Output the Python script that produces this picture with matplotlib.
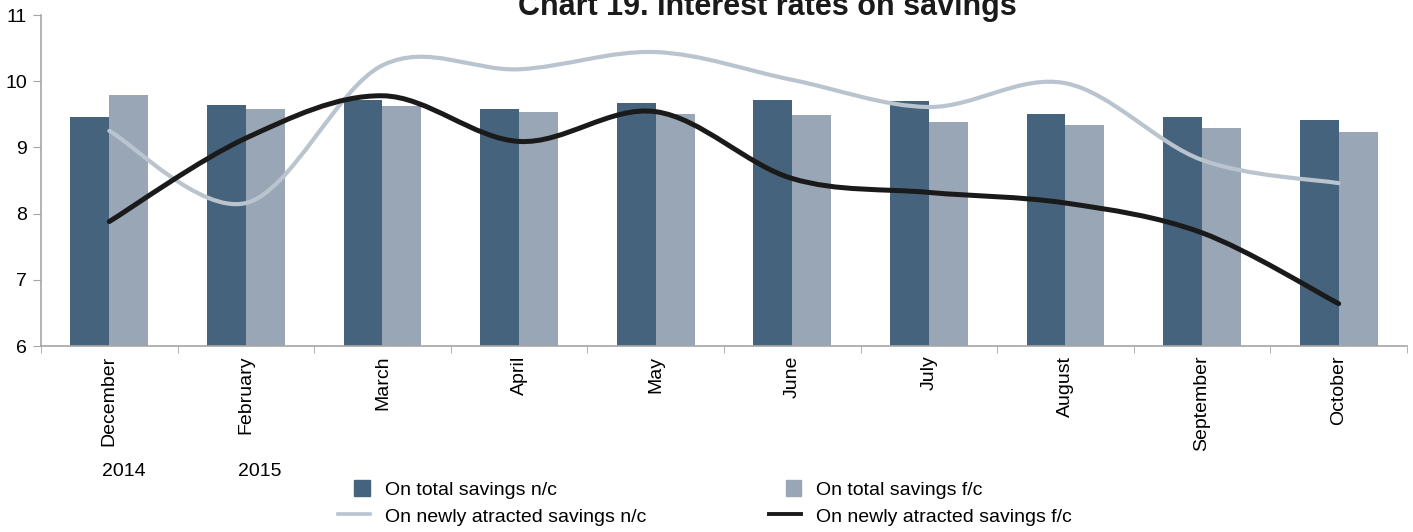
import numpy as np
import matplotlib
matplotlib.use("Agg")
import matplotlib.pyplot as plt
from matplotlib.path import Path
from matplotlib.patches import PathPatch, Patch, Rectangle
from matplotlib.lines import Line2D
from matplotlib.legend_handler import HandlerPatch
from matplotlib.transforms import blended_transform_factory

plt.rcParams['font.family'] = ['Liberation Sans', 'DejaVu Sans']

months = ["December", "February", "March", "April", "May",
          "June", "July", "August", "September", "October"]
years = ["2014", "2015"]

total_nc = [9.46, 9.64, 9.72, 9.58, 9.67, 9.72, 9.70, 9.50, 9.46, 9.41]
total_fc = [9.79, 9.58, 9.63, 9.53, 9.50, 9.49, 9.38, 9.34, 9.29, 9.23]
new_nc = [9.25, 8.16, 10.24, 10.18, 10.44, 10.02, 9.61, 9.97, 8.81, 8.46]
new_fc = [7.88, 9.14, 9.78, 9.09, 9.54, 8.53, 8.32, 8.16, 7.71, 6.64]

c_dark = "#46637d"
c_light = "#99a6b5"
c_line_light = "#b9c4cf"
c_line_dark = "#1a1a1a"
c_axis = "#a6a6a6"
fs = 14


def smooth_path(xs, ys):
    # bezier path through the points (Excel-like smoothed line)
    pts = np.column_stack([xs, ys]).astype(float)
    n = len(pts)
    verts = [pts[0]]
    codes = [Path.MOVETO]
    for i in range(n - 1):
        p0 = pts[i - 1] if i > 0 else pts[i]
        p1 = pts[i]
        p2 = pts[i + 1]
        p3 = pts[i + 2] if i + 2 < n else pts[i + 1]
        b1 = p1 + (p2 - p0) / 6.0
        b2 = p2 - (p3 - p1) / 6.0
        verts += [b1, b2, p2]
        codes += [Path.CURVE4] * 3
    return Path(verts, codes)


def square_patch(legend, orig_handle, xdescent, ydescent, width, height, fontsize):
    s = 11.5
    return Rectangle((width - s - xdescent, (height - s) / 2 - ydescent), s, s)


fig = plt.figure(figsize=(14.13, 5.32), dpi=100)
ax = fig.add_axes([0.029, 0.3496, 0.9667, 0.6222])

x = np.arange(len(months))
w = 0.285
ax.bar(x - w / 2, total_nc, w, color=c_dark, zorder=2)
ax.bar(x + w / 2, total_fc, w, color=c_light, zorder=2)

ax.add_patch(PathPatch(smooth_path(x, new_nc), fill=False, edgecolor=c_line_light,
                       lw=3.0, capstyle='round', zorder=3))
ax.add_patch(PathPatch(smooth_path(x, new_fc), fill=False, edgecolor=c_line_dark,
                       lw=3.6, capstyle='round', zorder=4))

ax.set_xlim(-0.5, len(months) - 0.5)
ax.set_ylim(6, 11)
ax.set_yticks([6, 7, 8, 9, 10, 11])

ax.set_xticks(x)
ax.set_xticklabels(months, rotation=90, fontsize=fs, va='top')
ax.tick_params(axis='x', which='major', length=0, pad=7)
ax.set_xticks(np.arange(-0.5, len(months)), minor=True)
ax.tick_params(axis='x', which='minor', length=5, color=c_axis, direction='out')
ax.tick_params(axis='y', labelsize=fs, length=6, color=c_axis, pad=4)

for s in ['top', 'right']:
    ax.spines[s].set_visible(False)
for s in ['left', 'bottom']:
    ax.spines[s].set_color(c_axis)
    ax.spines[s].set_linewidth(1.2)

tr = blended_transform_factory(ax.transData, fig.transFigure)
ax.text(0.11, 1 - 471 / 532, years[0], transform=tr, ha='center', va='center', fontsize=fs)
ax.text(1.1, 1 - 471 / 532, years[1], transform=tr, ha='center', va='center', fontsize=fs)

fig.text(767 / 1413, 1 - 15 / 532, "Chart 19. Interest rates on savings",
         ha='center', va='baseline', fontsize=22, fontweight='bold', color="#1a1a1a")

bar_nc = Patch(color=c_dark)
bar_fc = Patch(color=c_light)
handles = [bar_nc, Line2D([], [], color=c_line_light, lw=2.6),
           bar_fc, Line2D([], [], color=c_line_dark, lw=2.8)]
labels = ["On total savings n/c", "On newly atracted savings n/c",
          "On total savings f/c", "On newly atracted savings f/c"]
fig.legend(handles, labels, ncol=2, loc='center left',
           bbox_to_anchor=(338 / 1413, 1 - 503 / 532), frameon=False,
           fontsize=fs, handlelength=1.65, handleheight=0.8, handletextpad=0.75,
           columnspacing=6.35, labelspacing=0.45, borderpad=0, borderaxespad=0,
           handler_map={bar_nc: HandlerPatch(patch_func=square_patch),
                        bar_fc: HandlerPatch(patch_func=square_patch)})

fig.savefig("out.png", dpi=100)
